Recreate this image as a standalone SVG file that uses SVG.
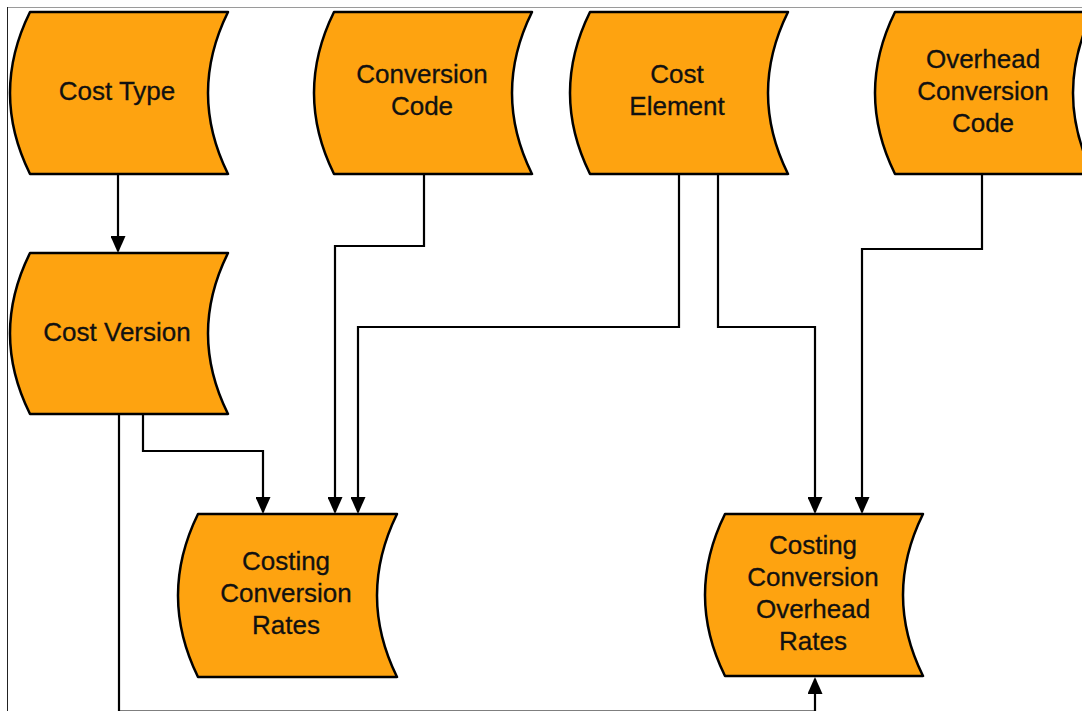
<svg xmlns="http://www.w3.org/2000/svg" width="1082" height="711" viewBox="0 0 1082 711">
<defs>
<style>
.node path{fill:#FEA310;stroke:#000;stroke-width:2.5;stroke-linejoin:round}
.node text{font-family:"Liberation Sans",Arial,sans-serif;font-size:26px;fill:#111;text-anchor:middle;stroke:#111;stroke-width:0.3}
.conn path{fill:none;stroke:#000;stroke-width:2.2;marker-end:url(#arr)}
.frame{stroke-width:1;fill:none}
</style>
<marker id="arr" markerUnits="userSpaceOnUse" markerWidth="17" markerHeight="15" refX="15" refY="7.5" orient="auto">
<path d="M0,0 L17,7.5 L0,15 z" fill="#000"/>
</marker>
</defs>
<rect width="1082" height="711" fill="#fff"/>
<line class="frame" x1="7" y1="7.5" x2="1082" y2="7.5" stroke="#9a9a9a"/>
<line class="frame" x1="7.5" y1="7" x2="7.5" y2="711" stroke="#222"/>

<g class="conn">
<path d="M118,174 V251"/>
<path d="M143,414 V451 H263 V512"/>
<path d="M424,174 V246 H335 V512"/>
<path d="M679,174 V327 H358 V512"/>
<path d="M718,174 V327 H815 V512"/>
<path d="M982,174 V249 H862 V512"/>
<path d="M119,414 V711.5 H815 V679"/>
</g>

<g id="cost-type" class="node">
<path d="M30,12 H228 Q188,93 228,174 H30 Q-10,93 30,12 Z"/>
<text x="117" y="100">Cost Type</text>
</g>
<g id="conversion-code" class="node">
<path d="M334,12 H532 Q492,93 532,174 H334 Q294,93 334,12 Z"/>
<text x="422" y="83">Conversion</text>
<text x="422" y="115">Code</text>
</g>
<g id="cost-element" class="node">
<path d="M590,12 H788 Q748,93 788,174 H590 Q550,93 590,12 Z"/>
<text x="677" y="83">Cost</text>
<text x="677" y="115">Element</text>
</g>
<g id="overhead-conversion-code" class="node">
<path d="M895,12 H1093 Q1053,93 1093,174 H895 Q855,93 895,12 Z"/>
<text x="983" y="68">Overhead</text>
<text x="983" y="100">Conversion</text>
<text x="983" y="132">Code</text>
</g>
<g id="cost-version" class="node">
<path d="M30,253 H228 Q188,333.5 228,414 H30 Q-10,333.5 30,253 Z"/>
<text x="117" y="341">Cost Version</text>
</g>
<g id="costing-conversion-rates" class="node">
<path d="M198,514 H397 Q357,595.5 397,677 H198 Q158,595.5 198,514 Z"/>
<text x="286" y="570">Costing</text>
<text x="286" y="602">Conversion</text>
<text x="286" y="634">Rates</text>
</g>
<g id="costing-conversion-overhead-rates" class="node">
<path d="M725,514 H923 Q883,595 923,676 H725 Q685,595 725,514 Z"/>
<text x="813" y="554">Costing</text>
<text x="813" y="586">Conversion</text>
<text x="813" y="618">Overhead</text>
<text x="813" y="650">Rates</text>
</g>
</svg>
